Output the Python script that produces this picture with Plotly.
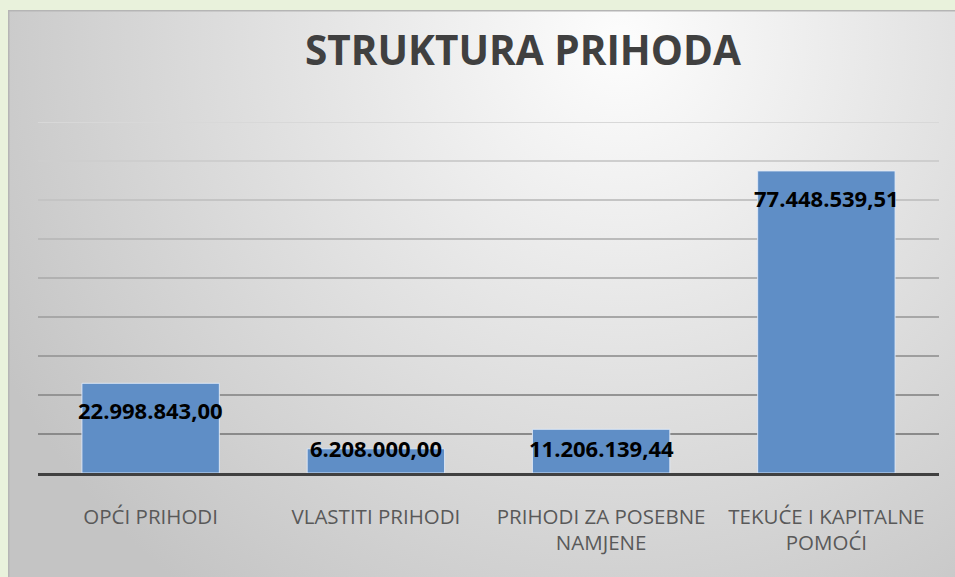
import base64
import plotly.graph_objects as go

categories = ["OPĆI PRIHODI", "VLASTITI PRIHODI", "PRIHODI ZA POSEBNE<br>NAMJENE", "TEKUĆE I KAPITALNE<br>POMOĆI"]
values = [22998843.00, 6208000.00, 11206139.44, 77448539.51]
value_labels = ["22.998.843,00", "6.208.000,00", "11.206.139,44", "77.448.539,51"]
grid_values = [10e6, 20e6, 30e6, 40e6, 50e6, 60e6, 70e6, 80e6, 90e6]
title_text = "STRUKTURA PRIHODA"

W, H = 955, 577
ML, MR, MT, MB = 38, 16, 122, 104
plot_w = W - ML - MR
plot_h = H - MT - MB
y_max = 90e6

# background gradient image (chart area)
cx0, cy0 = 8, 10
bw, bh = W - cx0 + 10, H - cy0 + 10
svg = f'''<svg xmlns="http://www.w3.org/2000/svg" width="{bw}" height="{bh}" viewBox="0 0 {bw} {bh}">
<defs><radialGradient id="g" gradientUnits="userSpaceOnUse" cx="{620-cx0}" cy="{40-cy0}" r="700">
<stop offset="0" stop-color="#fdfdfd"/><stop offset="1" stop-color="#c4c4c4"/></radialGradient></defs>
<rect x="0" y="0" width="{bw}" height="{bh}" fill="url(#g)"/>
<line x1="0.5" y1="0" x2="0.5" y2="{bh}" stroke="#b5b5b5" stroke-width="2"/>
<line x1="0" y1="0.5" x2="{bw}" y2="0.5" stroke="#b5b5b5" stroke-width="2"/>
</svg>'''
img_src = "data:image/svg+xml;base64," + base64.b64encode(svg.encode()).decode()

fig = go.Figure()
fig.add_trace(go.Bar(
    x=categories, y=values,
    marker=dict(color="#5f8ec6", line=dict(color="rgba(225,235,248,0.9)", width=1)),
    hoverinfo="skip",
))

def lerp(c1, c2, t):
    return "#%02x%02x%02x" % tuple(int(round(a + (b - a) * t)) for a, b in zip(c1, c2))

shapes = []
for gv in grid_values:
    t = (gv - grid_values[0]) / (grid_values[-1] - grid_values[0])
    col = lerp((0x8a, 0x8a, 0x8a), (0xd8, 0xd8, 0xd8), t)
    shapes.append(dict(type="line", xref="paper", yref="y", x0=0, x1=1, y0=gv, y1=gv,
                       line=dict(color=col, width=2), layer="below"))

annotations = []
for c, v, lab in zip(categories, values, value_labels):
    bar_px = v / y_max * plot_h
    shift = min(27, bar_px - 25)
    annotations.append(dict(x=c, y=v, xref="x", yref="y", text=lab, showarrow=False,
                            yanchor="middle", yshift=-shift,
                            font=dict(family="Open Sans", size=22, color="#000000", weight="bold")))

fig.update_layout(
    width=W, height=H,
    margin=dict(l=ML, r=MR, t=MT, b=MB),
    paper_bgcolor="#e9f2dc",
    plot_bgcolor="rgba(0,0,0,0)",
    showlegend=False,
    bargap=0.39,
    title=dict(text=title_text, x=(523 - ML) / plot_w, xref="paper", xanchor="center",
               y=1 - 51 / H, yanchor="middle",
               font=dict(family="Open Sans", size=40.5, color="#404040", weight="bold")),
    xaxis=dict(showgrid=False, showline=True, linecolor="#404040", linewidth=3,
               ticks="outside", ticklen=0, tickcolor="rgba(0,0,0,0)",
               ticklabelstandoff=23,
               tickfont=dict(family="Open Sans", size=20.5, color="#595959"),
               fixedrange=True),
    yaxis=dict(range=[0, y_max], showgrid=False, zeroline=False, showticklabels=False,
               showline=False, fixedrange=True),
    shapes=shapes,
    annotations=annotations,
    images=[dict(source=img_src, xref="paper", yref="paper",
                 x=(cx0 - ML) / plot_w, y=(H - MB - cy0) / plot_h,
                 sizex=bw / plot_w, sizey=bh / plot_h,
                 xanchor="left", yanchor="top", sizing="stretch", layer="below")],
)

fig.write_html("out.html", config={"displayModeBar": False},
               post_script="document.body.style.margin='0';document.body.style.overflow='hidden';")
